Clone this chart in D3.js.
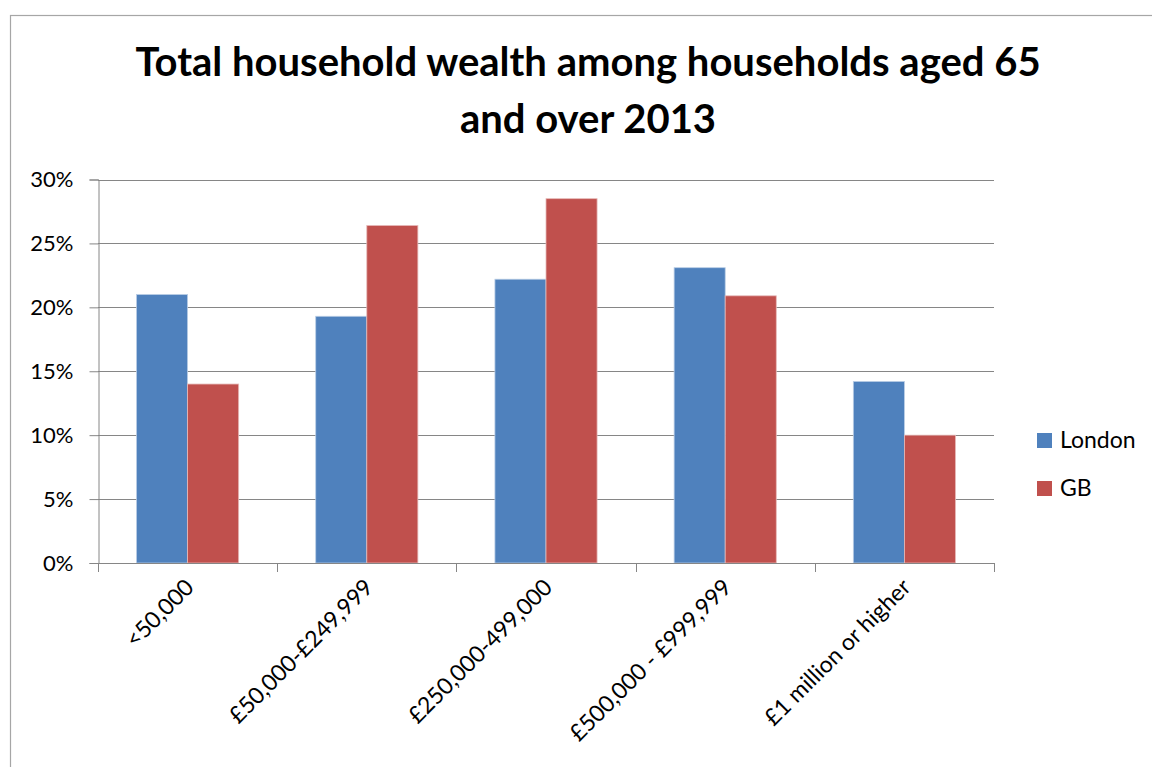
<!DOCTYPE html>
<html>
<head>
<meta charset="utf-8">
<script src="https://cdn.jsdelivr.net/npm/d3@7/dist/d3.min.js"></script>
<style>
  html, body { margin: 0; padding: 0; background: #fff; }
  svg { display: block; }
  text { font-family: Lato, "Open Sans", sans-serif; fill: #000; }
</style>
</head>
<body>
<svg id="chart" width="1152" height="767"></svg>
<script>
const categories = ["<50,000", "£50,000-£249,999", "£250,000-499,000", "£500,000 - £999,999", "£1 million or higher"];
const seriesNames = ["London", "GB"];
const londonValues = [0.210, 0.193, 0.222, 0.231, 0.142];
const gbValues = [0.140, 0.264, 0.285, 0.209, 0.100];
const seriesColors = ["#4F81BD", "#C0504D"];
const yTicks = [0, 0.05, 0.10, 0.15, 0.20, 0.25, 0.30];
const titleLines = ["Total household wealth among households aged 65", "and over 2013"];

const svg = d3.select("#chart");
const plot = { left: 98, right: 994, top: 179.5, bottom: 563 };

// outer chart border
svg.append("rect")
  .attr("x", 10.5).attr("y", 15.5)
  .attr("width", 1160).attr("height", 780)
  .attr("fill", "#fff").attr("stroke", "#A6A6A6").attr("stroke-width", 1.2);

// title
const title = svg.append("text")
  .attr("text-anchor", "middle")
  .attr("font-weight", 700)
  .attr("font-size", 40);
title.selectAll("tspan").data(titleLines).join("tspan")
  .attr("x", 588)
  .attr("y", (d, i) => 76 + i * 57)
  .text(d => d);

const x0 = d3.scaleBand()
  .domain(categories)
  .range([plot.left, plot.right])
  .paddingInner(0.43)
  .paddingOuter(0.215);
const x1 = d3.scaleBand()
  .domain(seriesNames)
  .range([0, x0.bandwidth()]);
const y = d3.scaleLinear().domain([0, 0.30]).range([plot.bottom, plot.top]);

// gridlines
svg.append("g").selectAll("line").data(yTicks).join("line")
  .attr("x1", plot.left).attr("x2", plot.right)
  .attr("y1", d => Math.round(y(d)) + 0.5).attr("y2", d => Math.round(y(d)) + 0.5)
  .attr("stroke", "#868686").attr("stroke-width", 1);

// y axis
const yAxis = d3.axisLeft(y).tickValues(yTicks).tickFormat(d3.format(".0%")).tickSize(9).tickPadding(16);
const gy = svg.append("g").attr("transform", `translate(${plot.left + 0.5},0)`).call(yAxis);
gy.select(".domain").attr("stroke", "#868686");
gy.selectAll(".tick line").attr("stroke", "#868686");
gy.selectAll(".tick text").attr("font-size", 22).attr("font-family", "Lato, sans-serif").attr("fill", "#000");

// bars
const rows = categories.map((c, i) => ({ cat: c, values: [londonValues[i], gbValues[i]] }));
const groups = svg.append("g").selectAll("g").data(rows).join("g")
  .attr("transform", d => `translate(${x0(d.cat)},0)`);
groups.selectAll("rect").data(d => d.values.map((v, j) => ({ s: seriesNames[j], v, j }))).join("rect")
  .attr("x", d => x1(d.s))
  .attr("y", d => y(d.v))
  .attr("width", x1.bandwidth())
  .attr("height", d => y(0) - y(d.v))
  .attr("fill", d => seriesColors[d.j])
  .attr("stroke", d => d.j === 0 ? "#B9CDE5" : "#E6B9B8")
  .attr("stroke-width", 0.8);

// x axis
const step = x0.step();
const tickPositions = d3.range(categories.length + 1).map(i => plot.left + i * step);
svg.append("line")
  .attr("x1", plot.left).attr("x2", plot.right)
  .attr("y1", plot.bottom + 0.5).attr("y2", plot.bottom + 0.5)
  .attr("stroke", "#868686");
svg.append("g").selectAll("line").data(tickPositions).join("line")
  .attr("x1", d => Math.round(d) + 0.5).attr("x2", d => Math.round(d) + 0.5)
  .attr("y1", plot.bottom).attr("y2", plot.bottom + 9)
  .attr("stroke", "#868686");

svg.append("g").selectAll("text").data(categories).join("text")
  .attr("text-anchor", "end")
  .attr("font-size", 23)
  .attr("transform", d => `translate(${x0(d) + x0.bandwidth() / 2 + 2},${plot.bottom + 20}) rotate(-45)`)
  .attr("dy", "0.35em")
  .text(d => d);

// legend
const legend = svg.append("g").selectAll("g").data(seriesNames).join("g")
  .attr("transform", (d, i) => `translate(1037,${433 + i * 48})`);
legend.append("rect").attr("width", 15).attr("height", 15)
  .attr("fill", (d, i) => seriesColors[i]);
legend.append("text").attr("x", 23).attr("y", 15).attr("font-size", 23).text(d => d);
</script>
</body>
</html>
